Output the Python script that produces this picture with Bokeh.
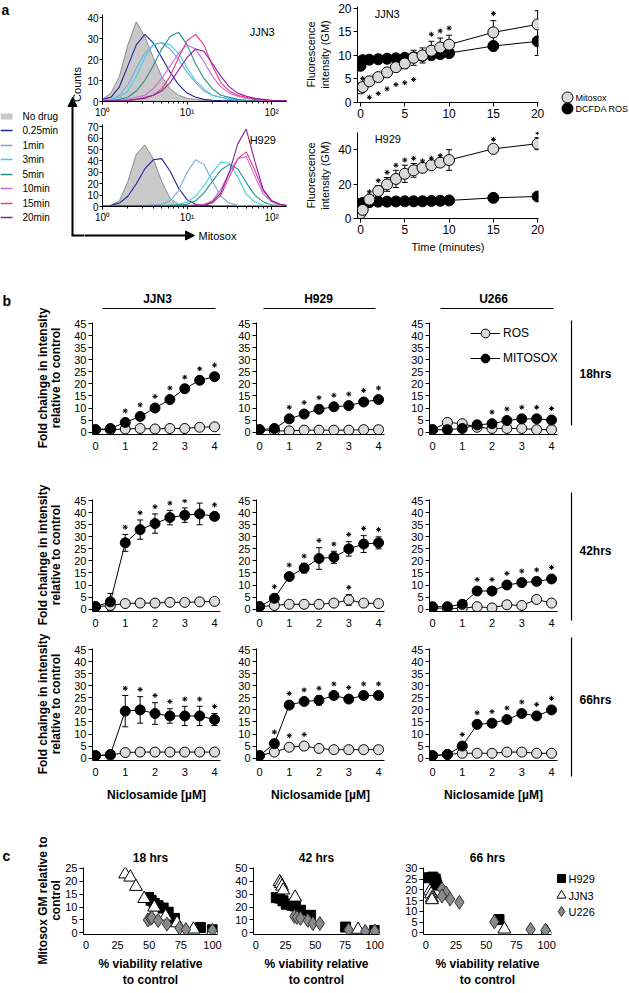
import numpy as np
from bokeh.plotting import figure
from bokeh.layouts import row, column
from bokeh.models import (Range1d, FixedTicker, Whisker, TeeHead, ColumnDataSource,
                          Legend, LegendItem, Arrow, NormalHead)
from bokeh.core.properties import value
from bokeh.embed import file_html
from bokeh.resources import INLINE

# ======================= DATA =======================
# ---- panel a: flow histograms (x = log10 Mitosox intensity) ----
hist_log10 = [0.0, 0.1, 0.2, 0.3, 0.4, 0.5, 0.6, 0.7, 0.8, 0.9, 1.0, 1.1,
              1.2, 1.3, 1.4, 1.5, 1.6, 1.7, 1.8, 1.9, 2.0, 2.1, 2.2]
hist_names = ["No drug", "0.25min", "1min", "3min", "5min", "10min", "15min", "20min"]
hist_colors = ["#bdbdbd", "#23239a", "#7ba7d9", "#36d3e2", "#2d8c88", "#c86be0", "#ea3a80", "#8b1c9b"]

jjn3_nodrug = [1, 4, 12, 27, 38, 31, 21, 12, 6, 3, 1.5, 1, 0.5, 0.5, 0.3, 0.3, 0.3, 0.2, 0.2, 0.2, 0.2, 0.2, 0.2]
jjn3_025 = [1, 2, 7, 17, 27, 32, 28, 21, 14, 8, 4, 2, 1, 0.6, 0.4, 0.3, 0.3, 0.2, 0.2, 0.2, 0.2, 0.2, 0.2]
jjn3_1 = [0.5, 1, 3, 8, 16, 23, 27, 28, 25, 20, 14, 9, 5, 3, 2, 1, 0.6, 0.4, 0.3, 0.3, 0.2, 0.2, 0.2]
jjn3_3 = [0.5, 1, 2, 5, 12, 21, 27, 28, 27, 23, 16, 10, 6, 3, 2, 1.5, 1, 0.6, 0.4, 0.3, 0.3, 0.2, 0.2]
jjn3_5 = [0.3, 0.5, 1, 2, 5, 10, 17, 25, 31, 33, 27, 18, 11, 6, 3, 2, 1, 0.6, 0.4, 0.3, 0.2, 0.2, 0.2]
jjn3_10 = [0.2, 0.3, 0.5, 1, 2, 3, 6, 11, 17, 23, 27, 25, 19, 12, 7, 4, 2.5, 1.5, 1, 0.6, 0.4, 0.3, 0.2]
jjn3_15 = [0.2, 0.3, 0.3, 0.5, 1, 2, 3, 6, 12, 21, 29, 32, 27, 17, 9, 5, 3, 2, 1, 0.6, 0.5, 0.3, 0.2]
jjn3_20 = [0.2, 0.3, 0.3, 0.5, 1, 1.5, 3, 5, 9, 15, 21, 25, 24, 18, 12, 7, 4, 2.5, 1.5, 1, 0.6, 0.4, 0.2]

h929_nodrug = [0.3, 1, 5, 22, 46, 54, 42, 22, 7, 2, 1, 0.5, 0.3, 0.3, 0.3, 0.3, 0.3, 0.3, 0.3, 0.3, 0.3, 0.3, 0.3]
h929_025 = [0.5, 1, 3, 9, 20, 33, 41, 42, 31, 16, 6, 2, 1, 0.5, 0.4, 0.3, 0.3, 0.3, 0.3, 0.3, 0.3, 0.3, 0.3]
h929_1 = [0.3, 0.3, 0.5, 0.5, 1, 1, 1.5, 2, 5, 14, 30, 41, 37, 22, 9, 3, 1, 0.5, 0.3, 0.3, 0.3, 0.3, 0.3]
h929_3 = [0.3, 0.3, 0.3, 0.5, 0.5, 0.5, 0.5, 1, 1, 2, 4, 9, 18, 30, 39, 38, 26, 11, 4, 1, 0.5, 0.3, 0.3]
h929_5 = [0.3, 0.3, 0.3, 0.3, 0.5, 0.5, 0.5, 0.5, 1, 1, 2, 5, 12, 22, 32, 37, 33, 21, 10, 4, 1.5, 0.5, 0.3]
h929_10 = [0.3, 0.3, 0.3, 0.3, 0.3, 0.3, 0.3, 0.5, 0.5, 0.5, 1, 1, 2, 5, 15, 30, 42, 44, 27, 11, 4, 1, 0.3]
h929_15 = [0.3, 0.3, 0.3, 0.3, 0.3, 0.3, 0.3, 0.3, 0.5, 0.5, 0.5, 1, 1, 3, 10, 26, 42, 48, 32, 14, 5, 2, 0.5]
h929_20 = [0.3, 0.3, 0.3, 0.3, 0.3, 0.3, 0.3, 0.3, 0.5, 0.5, 0.5, 1, 1, 4, 12, 30, 55, 68, 40, 15, 5, 2, 0.5]

jjn3_curves = [jjn3_nodrug, jjn3_025, jjn3_1, jjn3_3, jjn3_5, jjn3_10, jjn3_15, jjn3_20]
h929_curves = [h929_nodrug, h929_025, h929_1, h929_3, h929_5, h929_10, h929_15, h929_20]

hist_xticks = [1, 10, 100]
hist_xminor = [2, 3, 4, 5, 6, 7, 8, 9, 20, 30, 40, 50, 60, 70, 80, 90]
hist_top_yticks = [0, 10, 20, 30, 40]
hist_bot_yticks = [0, 10, 20, 30, 40, 50, 60, 70]

# ---- panel a: time courses ----
time_min = [0, 0.25, 1, 2, 3, 4, 5, 6, 7, 8, 9, 10, 15, 20]
a_jjn3_mit = [3.0, 3.3, 4.5, 5.4, 6.4, 7.5, 8.3, 9.5, 10.0, 11.0, 11.7, 12.3, 14.9, 16.6]
a_jjn3_mit_err = [0.3, 0.3, 0.4, 0.5, 0.5, 0.7, 1.1, 1.6, 1.6, 2.0, 2.0, 2.0, 2.5, 2.9]
a_jjn3_dc = [7.8, 9.0, 9.1, 9.2, 9.3, 9.4, 9.5, 9.6, 9.9, 10.1, 10.3, 10.5, 12.0, 13.0]
a_jjn3_dc_err = [0, 0, 0, 0, 0, 0, 0, 0, 0, 0, 0, 0, 1.0, 3.0]
a_jjn3_sig_up = [0, 1, 0, 0, 0, 0, 0, 0, 0, 1, 1, 1, 1, 1]
a_jjn3_sig_dn = [0, 0, 1, 1, 1, 1, 1, 1, 0, 0, 0, 0, 0, 0]

a_h929_mit = [3.0, 5.0, 11.0, 16.0, 19.8, 23.0, 26.0, 28.0, 29.5, 31.0, 32.5, 34.0, 40.5, 43.5]
a_h929_mit_err = [0.5, 0.8, 1.5, 3.0, 4.0, 5.0, 5.0, 4.0, 1.0, 1.0, 1.0, 6.0, 2.5, 3.5]
a_h929_dc = [8.5, 9.0, 9.5, 9.8, 9.8, 9.9, 10.0, 10.0, 10.0, 10.2, 10.3, 10.5, 12.0, 12.8]
a_h929_dc_err = [0, 0, 0, 0, 0, 0, 0, 0, 0, 0, 0, 0, 0, 0]
a_h929_sig_up = [0, 0, 1, 1, 1, 1, 1, 1, 1, 1, 1, 0, 1, 1]
a_h929_sig_dn = [0, 0, 0, 0, 0, 0, 0, 0, 0, 0, 0, 0, 0, 0]

time_ticks = [0, 5, 10, 15, 20]
a_jjn3_yticks = [0, 5, 10, 15, 20]
a_h929_yticks = [0, 20, 40]

# ---- panel b: niclosamide dose response ----
conc = [0, 0.5, 1, 1.5, 2, 2.5, 3, 3.5, 4]
b_yticks = [0, 5, 10, 15, 20, 25, 30, 35, 40, 45]
b_xticks = [0, 1, 2, 3, 4]

b18_jjn3_mit = [1.0, 1.5, 4.0, 6.5, 10.0, 13.5, 18.0, 21.5, 23.0]
b18_jjn3_mit_err = [0, 0.3, 0.5, 0.8, 0.8, 0.8, 1.0, 1.0, 1.0]
b18_jjn3_ros = [1.0, 1.0, 1.3, 1.5, 1.3, 1.5, 1.5, 2.0, 2.2]
b18_jjn3_ros_err = [0, 0, 0, 0, 0, 0, 0, 0, 0]
b18_jjn3_sig = [0, 0, 1, 1, 1, 1, 1, 1, 1]
b18_jjn3_ros_sig = [0, 0, 0, 0, 0, 0, 0, 0, 0]

b18_h929_mit = [1.0, 1.5, 5.5, 7.5, 9.5, 10.5, 11.0, 12.5, 13.5]
b18_h929_mit_err = [0, 0.3, 0.8, 0.8, 0.8, 0.8, 0.8, 0.8, 0.8]
b18_h929_ros = [1.0, 0.5, 0.5, 0.8, 0.8, 0.8, 0.8, 1.0, 1.0]
b18_h929_ros_err = [0, 0, 0, 0, 0, 0, 0, 0, 0]
b18_h929_sig = [0, 0, 1, 1, 1, 1, 1, 1, 1]
b18_h929_ros_sig = [0, 0, 0, 0, 0, 0, 0, 0, 0]

b18_u266_mit = [1.0, 1.0, 1.5, 3.0, 3.5, 4.8, 5.5, 5.5, 5.0]
b18_u266_mit_err = [0, 0, 0.3, 0.5, 1.0, 1.2, 1.5, 1.5, 1.2]
b18_u266_ros = [1.0, 4.0, 3.5, 2.0, 1.5, 1.5, 1.5, 1.0, 1.0]
b18_u266_ros_err = [0, 0, 0, 0, 0, 0, 0, 0, 0]
b18_u266_sig = [0, 0, 0, 0, 1, 1, 1, 1, 1]
b18_u266_ros_sig = [0, 0, 0, 0, 0, 0, 0, 0, 0]

b42_jjn3_mit = [1.0, 3.0, 27.5, 33.0, 35.5, 38.0, 39.0, 39.5, 38.5]
b42_jjn3_mit_err = [0.5, 3.5, 3.5, 4.0, 4.0, 3.0, 3.0, 4.5, 1.0]
b42_jjn3_ros = [1.0, 1.5, 2.3, 2.5, 2.5, 2.8, 2.8, 3.0, 3.2]
b42_jjn3_ros_err = [0, 1.0, 0, 0, 0, 0, 0, 0, 0]
b42_jjn3_sig = [0, 0, 1, 1, 1, 1, 1, 1, 1]
b42_jjn3_ros_sig = [0, 0, 0, 0, 0, 0, 0, 0, 0]

b42_h929_mit = [1.0, 4.5, 13.5, 17.0, 21.0, 21.5, 25.0, 27.0, 27.5]
b42_h929_mit_err = [0, 1.0, 1.5, 2.0, 4.5, 2.5, 3.0, 3.5, 2.5]
b42_h929_ros = [1.0, 1.5, 2.0, 2.0, 2.0, 2.5, 3.8, 2.5, 2.3]
b42_h929_ros_err = [0, 0, 0, 0, 0, 0, 2.2, 0, 0]
b42_h929_sig = [0, 1, 1, 1, 1, 1, 1, 1, 1]
b42_h929_ros_sig = [0, 0, 0, 0, 0, 0, 1, 0, 0]

b42_u266_mit = [1.0, 1.0, 2.0, 7.5, 7.5, 10.0, 11.0, 11.5, 12.5]
b42_u266_mit_err = [0, 0, 0.5, 1.0, 1.0, 1.0, 1.2, 1.2, 1.2]
b42_u266_ros = [0.5, 0.3, 0.3, 1.0, 0.5, 1.8, 1.5, 4.0, 2.5]
b42_u266_ros_err = [0, 0, 0, 0, 0, 0, 0, 0, 0]
b42_u266_sig = [0, 0, 0, 1, 1, 1, 1, 1, 1]
b42_u266_ros_sig = [0, 0, 0, 0, 0, 0, 0, 0, 0]

b66_jjn3_mit = [1.0, 1.5, 19.5, 20.0, 18.5, 17.5, 17.5, 17.5, 16.0]
b66_jjn3_mit_err = [0, 0.5, 6.5, 5.5, 4.5, 3.0, 4.0, 4.0, 2.5]
b66_jjn3_ros = [1.0, 1.2, 2.3, 2.5, 2.5, 2.5, 2.5, 2.5, 2.5]
b66_jjn3_ros_err = [0, 0, 0, 0, 0, 0, 0, 0, 0]
b66_jjn3_sig = [0, 0, 1, 1, 1, 1, 1, 1, 1]
b66_jjn3_ros_sig = [0, 0, 0, 0, 0, 0, 0, 0, 0]

b66_h929_mit = [1.0, 6.0, 22.0, 23.5, 24.0, 26.0, 24.5, 26.0, 26.0]
b66_h929_mit_err = [0, 1.5, 1.0, 1.0, 2.0, 1.5, 1.0, 1.5, 1.5]
b66_h929_ros = [1.0, 2.5, 4.5, 5.0, 4.0, 3.5, 3.5, 3.5, 3.5]
b66_h929_ros_err = [0, 0, 0, 0, 0, 0, 0, 0, 0]
b66_h929_sig = [0, 1, 1, 1, 1, 1, 1, 1, 1]
b66_h929_ros_sig = [0, 0, 1, 1, 0, 0, 0, 0, 0]

b66_u266_mit = [1.0, 1.5, 5.0, 14.0, 14.5, 16.0, 18.5, 17.5, 20.0]
b66_u266_mit_err = [0, 0.3, 0.8, 1.0, 1.0, 1.2, 1.2, 1.0, 1.0]
b66_u266_ros = [1.0, 1.5, 2.0, 2.0, 2.0, 2.5, 2.5, 2.0, 2.0]
b66_u266_ros_err = [0, 0, 0, 0, 0, 0, 0, 0, 0]
b66_u266_sig = [0, 0, 1, 1, 1, 1, 1, 1, 1]
b66_u266_ros_sig = [0, 0, 0, 0, 0, 0, 0, 0, 0]

b_cols = ["JJN3", "H929", "U266"]
b_rows = ["18hrs", "42hrs", "66hrs"]
b_legend = ["ROS", "MITOSOX"]

# ---- panel c: Mitosox vs viability ----
c18_h929_x = [49.5, 51.5, 54, 57, 61, 65, 70, 90.5, 100]
c18_h929_y = [13.7, 12.6, 11.4, 10.5, 9.6, 8.0, 5.6, 2.1, 1.2]
c18_jjn3_x = [31, 35, 39.5, 46, 54, 63, 72, 85, 100]
c18_jjn3_y = [22.7, 21.5, 17.9, 13.2, 9.9, 6.4, 3.8, 1.4, 0.5]
c18_u226_x = [49, 51, 52, 57, 64, 74, 79, 100]
c18_u226_y = [5.0, 5.6, 5.9, 4.8, 3.4, 1.9, 1.3, 1.0]

c42_h929_x = [17.2, 20, 22.8, 25.6, 30.4, 33.2, 37.5, 46, 75.5, 100]
c42_h929_y = [27.3, 26.9, 24.8, 22.2, 21.4, 20.8, 17.5, 13.6, 4.5, 1.9]
c42_jjn3_x = [20, 21, 22, 23, 33, 86, 100]
c42_jjn3_y = [39.5, 38, 36, 33, 27.5, 2.6, 0.6]
c42_u226_x = [32.4, 34.6, 37.5, 43.7, 48, 53.8, 78, 92, 100]
c42_u226_y = [12.8, 12.0, 11.2, 9.7, 7.3, 7.3, 2.3, 1.1, 1.4]

c66_h929_x = [2.3, 5.7, 7.7, 8.3, 9.0, 60.5]
c66_h929_y = [25.6, 25.9, 25.0, 23.6, 22.2, 6.2]
c66_jjn3_x = [3.3, 4.3, 5.0, 5.0, 65, 100]
c66_jjn3_y = [19.4, 18.0, 16.2, 15.3, 1.7, 0.5]
c66_u226_x = [13.3, 16.7, 13.3, 20, 27.7, 56.7, 86.7, 99]
c66_u226_y = [20.4, 18.5, 17.1, 15.7, 14.2, 5.1, 1.6, 1.2]

c_titles = ["18 hrs", "42 hrs", "66 hrs"]
c_xticks = [0, 25, 50, 75, 100]
c18_yticks = [0, 5, 10, 15, 20, 25]
c42_yticks = [0, 10, 20, 30, 40, 50]
c66_yticks = [0, 5, 10, 15, 20, 25, 30]
c_names = ["H929", "JJN3", "U226"]
c_markers = ["square", "triangle", "diamond"]
c_fills = ["black", "white", "#8a8a8a"]
c_lines = ["black", "black", "#333333"]

# ======================= HELPERS =======================
F = "Liberation Sans"


def base_fig(box, frame, xr, yr, x_type="linear", tick_size="11px"):
    x0, y0, x1, y1 = box
    fx0, fy0, fx1, fy1 = [int(round(v)) for v in frame]
    p = figure(width=x1 - x0, height=y1 - y0,
               x_range=xr, y_range=yr, x_axis_type=x_type,
               output_backend="svg", toolbar_location=None,
               min_border_left=fx0 - x0, min_border_right=x1 - fx1,
               min_border_top=fy0 - y0, min_border_bottom=y1 - fy1)
    p.grid.visible = False
    p.outline_line_color = None
    for ax in p.axis:
        ax.axis_line_color = "black"
        ax.major_tick_line_color = "black"
        ax.minor_tick_line_color = None
        ax.major_tick_in = 0
        ax.major_tick_out = 4
        ax.major_label_text_font = F
        ax.major_label_text_font_size = tick_size
        ax.major_label_text_color = "black"
        ax.major_label_standoff = 2
        ax.axis_label_text_font = F
        ax.axis_label_text_font_style = "normal"
        ax.axis_label_text_color = "black"
    return p


def blank_fig(box):
    x0, y0, x1, y1 = box
    p = figure(width=x1 - x0, height=y1 - y0,
               x_range=Range1d(x0, x1), y_range=Range1d(y1, y0),
               output_backend="svg", toolbar_location=None,
               min_border_left=0, min_border_right=0, min_border_top=0, min_border_bottom=0,
               x_axis_location=None, y_axis_location=None)
    p.grid.visible = False
    p.outline_line_color = None
    return p


def txt(p, x, y, s, size="11px", bold=False, align="left", angle=0.0, color="black"):
    p.text(x=[x], y=[y], text=[s], text_font=value(F), text_font_size=size,
           text_font_style="bold" if bold else "normal", text_align=align,
           text_baseline="middle", angle=angle, text_color=color)


def stars(p, xs, ys):
    p.scatter(x=xs, y=ys, marker="asterisk", size=5, line_color="black", line_width=1)


# ======================= PANEL A =======================
a_left = blank_fig((0, 0, 84, 262))
txt(a_left, 1, 9, "a", size="14px", bold=True)
leg_y = [116, 130, 145, 159, 174, 188, 203, 217]
for i, (nm, col) in enumerate(zip(hist_names, hist_colors)):
    yy = leg_y[i]
    if i == 0:
        a_left.quad(left=0, right=12, top=yy - 3, bottom=yy + 3, fill_color="#c9c9c9", line_color=None)
    else:
        a_left.segment(x0=0, y0=yy, x1=12, y1=yy, line_color=col, line_width=1.6)
    txt(a_left, 22, yy, nm, size="10px")
a_left.add_layout(Arrow(end=NormalHead(size=9, fill_color="black", line_color="black"),
                        x_start=72, y_start=235, x_end=72, y_end=97, line_width=2, line_color="black"))
a_left.segment(x0=71, y0=235, x1=84, y1=235, line_color="black", line_width=2)
txt(a_left, 76, 84, "Counts", size="11px", angle=np.pi / 2, align="center")


def hist_fig(box, frame, ymax, yticks, curves, label, lx, ly):
    p = base_fig(box, frame, Range1d(1, 150), Range1d(0, ymax), x_type="log", tick_size="10px")
    p.xaxis.ticker = FixedTicker(ticks=hist_xticks, minor_ticks=hist_xminor)
    p.xaxis.major_label_overrides = {1: "10⁰", 10: "10¹", 100: "10²"}
    p.xaxis.minor_tick_line_color = "black"
    p.xaxis.minor_tick_out = 2
    p.xaxis.minor_tick_in = 0
    p.xaxis.major_tick_out = 3
    p.yaxis.ticker = FixedTicker(ticks=yticks)
    p.yaxis.major_tick_out = 3
    p.yaxis.major_label_standoff = 1
    xs = [10 ** v for v in hist_log10]
    p.varea(x=xs, y1=0, y2=curves[0], fill_color="#c9c9c9")
    p.line(xs, curves[0], line_color="#8c8c8c", line_width=1)
    for c, col in zip(curves[1:], hist_colors[1:]):
        p.line(xs, c, line_color=col, line_width=1.1)
    txt(p, lx, ly, label, size="11px", align="left")
    return p


hist_top = hist_fig((84, 0, 300, 120), (100, 14, 286, 101), 41.5, hist_top_yticks,
                    jjn3_curves, "JJN3", 55, 33)
hist_bot = hist_fig((84, 120, 300, 225), (100, 124, 286, 207), 72, hist_bot_yticks,
                    h929_curves, "H929", 55, 58)
a_arrow = blank_fig((84, 225, 300, 262))
a_arrow.add_layout(Arrow(end=NormalHead(size=9, fill_color="black", line_color="black"),
                         x_start=83, y_start=235, x_end=194, y_end=235, line_width=2, line_color="black"))
txt(a_arrow, 198, 235, "Mitosox", size="11px")


def time_fig(box, frame, yr, yticks, mit, mit_err, dc, dc_err, sig_up, sig_dn, label, lpos,
             star_off, xlabel=None):
    p = base_fig(box, frame, Range1d(-0.34, 20.1), yr, tick_size="12px")
    p.xaxis.ticker = FixedTicker(ticks=time_ticks)
    p.yaxis.ticker = FixedTicker(ticks=yticks)
    p.yaxis.axis_label = "Fluorescence\nintensity (GM)"
    p.yaxis.axis_label_text_font_size = "11px"
    p.yaxis.axis_label_standoff = 4
    if xlabel:
        p.xaxis.axis_label = xlabel
        p.xaxis.axis_label_text_font_size = "11px"
        p.xaxis.axis_label_standoff = 4
    src = ColumnDataSource(dict(t=time_min, m=mit, dc=dc,
                                mlo=[v - e for v, e in zip(mit, mit_err)],
                                mhi=[v + e for v, e in zip(mit, mit_err)],
                                dlo=[v - e for v, e in zip(dc, dc_err)],
                                dhi=[v + e for v, e in zip(dc, dc_err)]))
    for lo, hi in (("mlo", "mhi"), ("dlo", "dhi")):
        p.add_layout(Whisker(source=src, base="t", lower=lo, upper=hi, line_color="black",
                             upper_head=TeeHead(size=6, line_color="black"),
                             lower_head=TeeHead(size=6, line_color="black")))
    p.line("t", "dc", source=src, line_color="black", line_width=1)
    p.line("t", "m", source=src, line_color="black", line_width=1)
    p.scatter("t", "dc", source=src, size=11, fill_color="black", line_color="black")
    p.scatter("t", "m", source=src, size=11, fill_color="#d9d9d9", line_color="black")
    ux = [t for t, s in zip(time_min, sig_up) if s]
    uy = [v + e + star_off for v, e, s in zip(mit, mit_err, sig_up) if s]
    dx = [t for t, s in zip(time_min, sig_dn) if s]
    dy = [v - e - star_off * 2.0 for v, e, s in zip(mit, mit_err, sig_dn) if s]
    stars(p, ux + dx, uy + dy)
    txt(p, lpos[0], lpos[1], label, size="11px")
    return p


line_top = time_fig((300, 0, 552, 122), (357, 6, 538, 102), Range1d(0, 20.4), a_jjn3_yticks,
                    a_jjn3_mit, a_jjn3_mit_err, a_jjn3_dc, a_jjn3_dc_err,
                    a_jjn3_sig_up, a_jjn3_sig_dn, "JJN3", (1.6, 18.8), 1.5)
line_bot = time_fig((300, 122, 552, 262), (357, 132, 538, 218), Range1d(0, 50), a_h929_yticks,
                    a_h929_mit, a_h929_mit_err, a_h929_dc, a_h929_dc_err,
                    a_h929_sig_up, a_h929_sig_dn, "H929", (1.6, 46), 3.0, xlabel="Time (minutes)")

a_leg = blank_fig((552, 0, 629, 262))
a_leg.scatter(x=[567, 567], y=[97, 108], size=11, fill_color=["#d9d9d9", "black"], line_color="black")
txt(a_leg, 575, 97, "Mitosox", size="9px")
txt(a_leg, 575, 108, "DCFDA ROS", size="9px")

band_a = row(a_left, column(hist_top, hist_bot, row(a_arrow)), column(line_top, line_bot), a_leg)

# ======================= PANEL B =======================
row_boxes = [(316, 468), (468, 636), (636, 815)]
row_frames_y = [(323, 432), (500, 609), (649, 758)]
side_lines = [(320, 425), (492, 620), (637, 776)]

b_ylab = blank_fig((0, 262, 62, 815))
txt(b_ylab, 2, 300, "b", size="14px", bold=True)
for (ya, yb) in row_frames_y:
    ym = (ya + yb) / 2
    txt(b_ylab, 42, ym, "Fold chainge in intensity", size="12px", bold=True, angle=np.pi / 2, align="center")
    txt(b_ylab, 55, ym, "relative to control", size="12px", bold=True, angle=np.pi / 2, align="center")

b_head = blank_fig((62, 262, 629, 316))
head_x = [157, 318, 493]
head_lines = [(102, 215), (263, 375), (440, 553)]
for nm, hx, (la, lb) in zip(b_cols, head_x, head_lines):
    txt(b_head, hx, 298, nm, size="12px", bold=True, align="center")
    b_head.segment(x0=la, y0=308, x1=lb, y1=308, line_color="black", line_width=1)

col_boxes = [(62, 232), (232, 402), (402, 565)]
col_axis_x = [92, 256, 429]

LEG_GH, LEG_SP = 22, 3


def panel_b(bx, fr, mit, mit_err, mit_sig, ros, ros_err, ros_sig, xlabel=None, legend=False):
    p = base_fig(bx, fr, Range1d(-0.1, 4.2), Range1d(-1.0, 45.5), tick_size="11px")
    p.yaxis.ticker = FixedTicker(ticks=b_yticks)
    p.xaxis.ticker = FixedTicker(ticks=b_xticks)
    p.xaxis.major_tick_out = 0
    p.xaxis.major_label_standoff = 7
    if xlabel:
        p.xaxis.axis_label = xlabel
        p.xaxis.axis_label_text_font_style = "bold"
        p.xaxis.axis_label_text_font_size = "12px"
        p.xaxis.axis_label_standoff = 9
    src = ColumnDataSource(dict(x=conc, m=mit, r=ros,
                                mlo=[v - e for v, e in zip(mit, mit_err)],
                                mhi=[v + e for v, e in zip(mit, mit_err)],
                                rlo=[v - e for v, e in zip(ros, ros_err)],
                                rhi=[v + e for v, e in zip(ros, ros_err)]))
    for lo, hi in (("mlo", "mhi"), ("rlo", "rhi")):
        p.add_layout(Whisker(source=src, base="x", lower=lo, upper=hi, line_color="black",
                             upper_head=TeeHead(size=6, line_color="black"),
                             lower_head=TeeHead(size=6, line_color="black")))
    rl = p.line("x", "r", source=src, line_color="black", line_width=1)
    ml = p.line("x", "m", source=src, line_color="black", line_width=1)
    rc = p.scatter("x", "r", source=src, size=10, fill_color="#dcdcdc", line_color="black")
    mc = p.scatter("x", "m", source=src, size=10, fill_color="black", line_color="black")
    sx, sy = [], []
    for xv, v, e, s in zip(conc, mit, mit_err, mit_sig):
        if s:
            sx.append(xv); sy.append(v + max(e, 1.8) + 3.0)
    for xv, v, e, s in zip(conc, ros, ros_err, ros_sig):
        if s:
            sx.append(xv); sy.append(v + max(e, 1.8) + 3.0)
    stars(p, sx, sy)
    if legend:
        leg_top = 322
        leg_h = 2 * LEG_GH + LEG_SP
        lg = Legend(items=[LegendItem(label=b_legend[0], renderers=[rl, rc]),
                           LegendItem(label=b_legend[1], renderers=[ml, mc])],
                    location=(470 - fr[0], fr[3] - (leg_top + leg_h)),
                    background_fill_alpha=0, border_line_alpha=0,
                    label_text_font=F, label_text_font_size="12px", label_text_color="black",
                    glyph_width=30, glyph_height=LEG_GH, spacing=LEG_SP, padding=0, margin=0,
                    label_standoff=3)
        p.add_layout(lg)
    return p


b_series = [
    [(b18_jjn3_mit, b18_jjn3_mit_err, b18_jjn3_sig, b18_jjn3_ros, b18_jjn3_ros_err, b18_jjn3_ros_sig),
     (b18_h929_mit, b18_h929_mit_err, b18_h929_sig, b18_h929_ros, b18_h929_ros_err, b18_h929_ros_sig),
     (b18_u266_mit, b18_u266_mit_err, b18_u266_sig, b18_u266_ros, b18_u266_ros_err, b18_u266_ros_sig)],
    [(b42_jjn3_mit, b42_jjn3_mit_err, b42_jjn3_sig, b42_jjn3_ros, b42_jjn3_ros_err, b42_jjn3_ros_sig),
     (b42_h929_mit, b42_h929_mit_err, b42_h929_sig, b42_h929_ros, b42_h929_ros_err, b42_h929_ros_sig),
     (b42_u266_mit, b42_u266_mit_err, b42_u266_sig, b42_u266_ros, b42_u266_ros_err, b42_u266_ros_sig)],
    [(b66_jjn3_mit, b66_jjn3_mit_err, b66_jjn3_sig, b66_jjn3_ros, b66_jjn3_ros_err, b66_jjn3_ros_sig),
     (b66_h929_mit, b66_h929_mit_err, b66_h929_sig, b66_h929_ros, b66_h929_ros_err, b66_h929_ros_sig),
     (b66_u266_mit, b66_u266_mit_err, b66_u266_sig, b66_u266_ros, b66_u266_ros_err, b66_u266_ros_sig)],
]
b_rows_layout = []
for ri, (ry0, ry1) in enumerate(row_boxes):
    ya, yb = row_frames_y[ri]
    ppu = (yb - ya) / 45.0
    fy0 = ya - 0.5 * ppu
    fy1 = yb + 1.0 * ppu
    figs = []
    for ci, (cx0, cx1) in enumerate(col_boxes):
        ax0 = col_axis_x[ci]
        xppu = 119 / 4.0
        frame = (ax0, fy0, ax0 + 4.3 * xppu, fy1)
        m, me, ms, r, re_, rs = b_series[ri][ci]
        figs.append(panel_b((cx0, ry0, cx1, ry1), frame,
                            m, me, ms, r, re_, rs,
                            xlabel="Niclosamide [µM]" if ri == 2 else None,
                            legend=(ri == 0 and ci == 2)))
    side = blank_fig((565, ry0, 629, ry1))
    la, lb = side_lines[ri]
    side.segment(x0=571, y0=la, x1=571, y1=lb, line_color="black", line_width=1.2)
    txt(side, 579, (ya + yb) / 2 - 4, b_rows[ri], size="12px", bold=True)
    figs.append(column(side))
    b_rows_layout.append(row(*figs))

band_b = row(b_ylab, column(b_head, *b_rows_layout))

# ======================= PANEL C =======================
c_top, c_zero = 868, 932

c_ylab = blank_fig((0, 815, 62, 993))
txt(c_ylab, 2, 855, "c", size="14px", bold=True)
txt(c_ylab, 42, (c_top + c_zero) / 2, "Mitosox GM relative to", size="12px", bold=True,
    angle=np.pi / 2, align="center")
txt(c_ylab, 55, (c_top + c_zero) / 2, "control", size="12px", bold=True, angle=np.pi / 2, align="center")


def panel_c(box, x0px, x100px, ymax, yticks, title, series):
    ppu = (x100px - x0px) / 100.0
    ypu = (c_zero - c_top) / ymax
    ylo = -0.025 * ymax
    yhi = ymax * 1.012
    frame = (x0px - 2 * ppu, c_top - (yhi - ymax) * ypu, x0px + 104 * ppu, c_zero - ylo * ypu)
    p = base_fig(box, frame, Range1d(-2, 104), Range1d(ylo, yhi), tick_size="11px")
    p.xaxis.ticker = FixedTicker(ticks=c_xticks)
    p.yaxis.ticker = FixedTicker(ticks=yticks)
    p.xaxis.major_tick_out = 0
    p.xaxis.major_label_standoff = 6
    p.xaxis.axis_label = "% viability relative\nto control"
    p.xaxis.axis_label_text_font_style = "bold"
    p.xaxis.axis_label_text_font_size = "12px"
    p.xaxis.axis_label_standoff = 5
    p.title.text = title
    p.title.align = "center"
    p.title.text_font = F
    p.title.text_font_size = "12px"
    p.title.text_font_style = "bold"
    p.title.text_color = "black"
    p.title.standoff = 6
    sizes = [10, 13, 14]
    for (xs, ys), mk, fc, lc, sz in zip(series, c_markers, c_fills, c_lines, sizes):
        p.scatter(xs, ys, marker=mk, size=sz, fill_color=fc, line_color=lc)
    return p


c1 = panel_c((62, 815, 232, 993), 82.3, 211.7, 25, c18_yticks, c_titles[0],
             [(c18_h929_x, c18_h929_y), (c18_jjn3_x, c18_jjn3_y), (c18_u226_x, c18_u226_y)])
c2 = panel_c((232, 815, 402, 993), 255.7, 374.5, 50, c42_yticks, c_titles[1],
             [(c42_h929_x, c42_h929_y), (c42_jjn3_x, c42_jjn3_y), (c42_u226_x, c42_u226_y)])
c3 = panel_c((402, 815, 556, 993), 425, 546, 30, c66_yticks, c_titles[2],
             [(c66_h929_x, c66_h929_y), (c66_jjn3_x, c66_jjn3_y), (c66_u226_x, c66_u226_y)])

c_leg = blank_fig((556, 815, 629, 993))
c_leg_y = [878, 895, 911]
c_leg_sizes = [8, 9, 10]
for nm, yy, mk, fc, lc, sz in zip(c_names, c_leg_y, c_markers, c_fills, c_lines, c_leg_sizes):
    c_leg.scatter(x=[561], y=[yy], marker=mk, size=sz, fill_color=fc, line_color=lc)
    txt(c_leg, 568, yy, nm, size="11px")

band_c = row(column(c_ylab), c1, c2, c3, column(c_leg))

layout = column(band_a, band_b, band_c)
open("out.html", "w").write(file_html(layout, INLINE))
